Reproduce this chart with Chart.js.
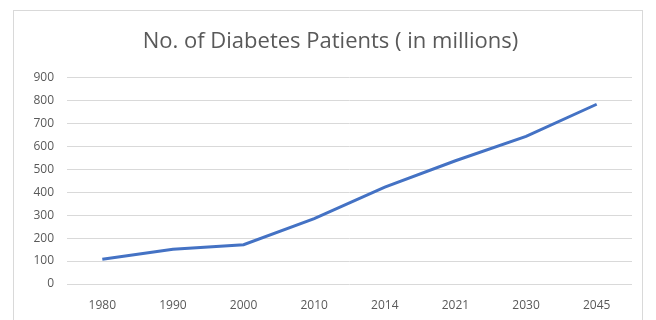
<!DOCTYPE html>
<html>
<head>
<meta charset="utf-8">
<script src="https://cdn.jsdelivr.net/npm/chart.js@4/dist/chart.umd.min.js"></script>
<style>
  html, body { margin: 0; padding: 0; background: #fff; }
  #frame { position: absolute; left: 13px; top: 10px; width: 630px; height: 330px; border: 1px solid #d9d9d9; box-sizing: border-box; }
  #wrap { position: absolute; left: 0; top: 0; width: 656px; height: 320px; }
</style>
</head>
<body>
<div id="frame"></div>
<div id="wrap"><canvas id="myChart" width="656" height="320"></canvas></div>
<script>
const years = ['1980', '1990', '2000', '2010', '2014', '2021', '2030', '2045'];
const patients = [108, 151, 171, 285, 422, 537, 643, 783];
const yTicks = [0, 100, 200, 300, 400, 500, 600, 700, 800, 900];

const textColor = '#595959';
const gridColor = '#d9d9d9';

new Chart(document.getElementById('myChart'), {
  type: 'line',
  data: {
    labels: years,
    datasets: [{
      label: 'No. of Diabetes Patients',
      data: patients,
      borderColor: '#4472c4',
      borderWidth: 3,
      pointRadius: 0,
      tension: 0,
      fill: false
    }]
  },
  options: {
    responsive: false,
    animation: false,
    layout: { padding: { top: 20, right: 24, left: 29, bottom: 0 } },
    plugins: {
      legend: { display: false },
      tooltip: { enabled: false },
      title: {
        display: true,
        text: 'No. of Diabetes Patients ( in millions)',
        color: textColor,
        font: { family: 'Open Sans', size: 22, weight: 'normal' },
        padding: { top: 9, bottom: 22 }
      }
    },
    scales: {
      x: {
        offset: true,
        grid: { display: false, drawTicks: false },
        border: { display: false },
        ticks: { color: textColor, font: { family: 'Open Sans', size: 12 }, padding: 14, maxRotation: 0 },
        afterFit: s => { s.height = 36; }
      },
      y: {
        min: 0,
        max: 900,
        afterBuildTicks: s => { s.ticks = yTicks.map(v => ({ value: v })); },
        grid: { color: gridColor, lineWidth: 1, drawTicks: false },
        border: { display: false },
        ticks: { color: textColor, font: { family: 'Open Sans', size: 12 }, padding: 13 },
        afterFit: s => { s.width = 38; }
      }
    }
  }
});
</script>
</body>
</html>
